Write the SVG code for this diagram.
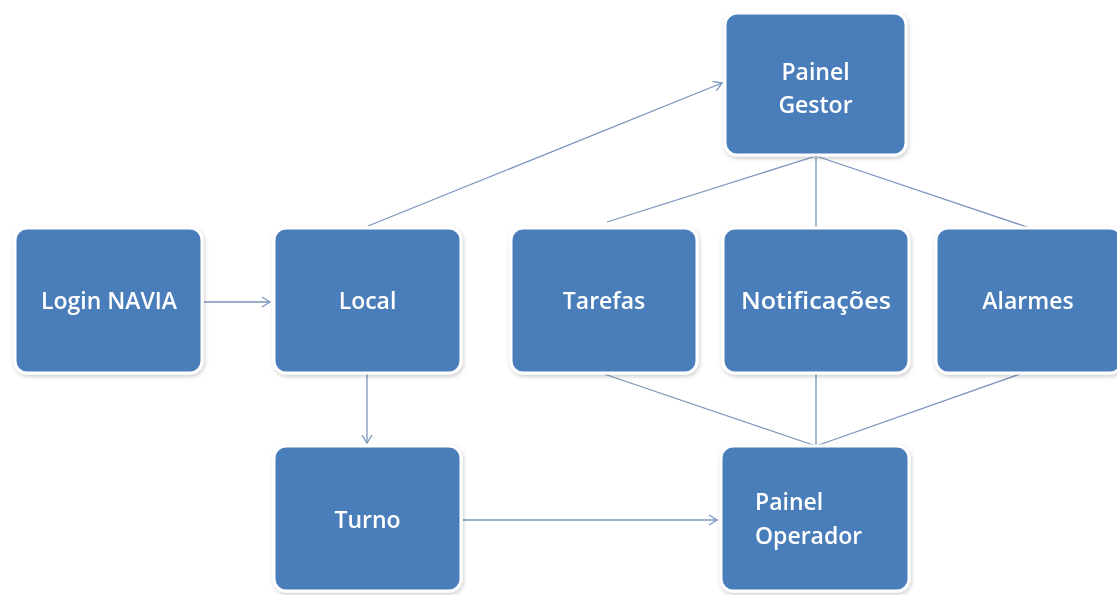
<svg xmlns="http://www.w3.org/2000/svg" width="1117" height="595" viewBox="0 0 1117 595">
<style>
.box{fill:#4a7ebb;stroke:#ffffff;stroke-width:3}
.lbl{font-family:"Open Sans","Noto Sans",sans-serif;font-size:23px;font-weight:600;fill:#ffffff;text-anchor:middle}
.lbll{font-family:"Open Sans","Noto Sans",sans-serif;font-size:23px;font-weight:600;fill:#ffffff}
.con{stroke:#7a95bb;stroke-width:1.3;fill:none}
</style>
<defs>
<filter id="sh" x="-10%" y="-10%" width="130%" height="130%">
<feDropShadow dx="1" dy="2" stdDeviation="2" flood-color="#000" flood-opacity="0.2"/>
</filter>
<marker id="ar" markerWidth="12" markerHeight="12" refX="10" refY="6" orient="auto" markerUnits="userSpaceOnUse">
<path d="M2,1 L10,6 L2,11" fill="none" stroke="#7a95bb" stroke-width="1.3"/>
</marker>
</defs>
<rect width="1117" height="595" fill="#ffffff"/>
<g id="connectors">
<line class="con" x1="204" y1="302" x2="270" y2="302" marker-end="url(#ar)"/>
<line class="con" x1="367" y1="374" x2="367" y2="443" marker-end="url(#ar)"/>
<line class="con" x1="463" y1="520" x2="717" y2="520" marker-end="url(#ar)"/>
<line class="con" x1="368" y1="226" x2="722" y2="83" marker-end="url(#ar)"/>
<line class="con" x1="816" y1="156" x2="607" y2="222"/>
<line class="con" x1="816" y1="156" x2="816" y2="228"/>
<line class="con" x1="816" y1="156" x2="1030" y2="228"/>
<line class="con" x1="604" y1="374" x2="816" y2="446"/>
<line class="con" x1="816" y1="374" x2="816" y2="446"/>
<line class="con" x1="1020" y1="374" x2="816" y2="446"/>
</g>
<g id="login" filter="url(#sh)">
<rect class="box" x="15" y="228" width="187" height="145" rx="12"/>
<text class="lbl" x="109" y="309">Login NAVIA</text>
</g>
<g id="local" filter="url(#sh)">
<rect class="box" x="274" y="228" width="187" height="145" rx="12"/>
<text class="lbl" x="367.5" y="309">Local</text>
</g>
<g id="turno" filter="url(#sh)">
<rect class="box" x="274" y="446" width="187" height="145" rx="12"/>
<text class="lbl" x="367.5" y="528">Turno</text>
</g>
<g id="painel-gestor" filter="url(#sh)">
<rect class="box" x="725" y="13" width="181" height="142" rx="12"/>
<text class="lbl" x="815.5" y="80">Painel</text>
<text class="lbl" x="815.5" y="113">Gestor</text>
</g>
<g id="tarefas" filter="url(#sh)">
<rect class="box" x="511" y="228" width="186" height="145" rx="12"/>
<text class="lbl" x="604" y="309">Tarefas</text>
</g>
<g id="notificacoes" filter="url(#sh)">
<rect class="box" x="723" y="228" width="186" height="145" rx="12"/>
<text class="lbl" x="816" y="309" textLength="150" lengthAdjust="spacingAndGlyphs">Notificações</text>
</g>
<g id="alarmes" filter="url(#sh)">
<rect class="box" x="936" y="228" width="186" height="145" rx="12"/>
<text class="lbl" x="1028" y="309">Alarmes</text>
</g>
<g id="painel-operador" filter="url(#sh)">
<rect class="box" x="721" y="446" width="188" height="145" rx="12"/>
<text class="lbll" x="755" y="510">Painel</text>
<text class="lbll" x="755" y="544">Operador</text>
</g>
</svg>
